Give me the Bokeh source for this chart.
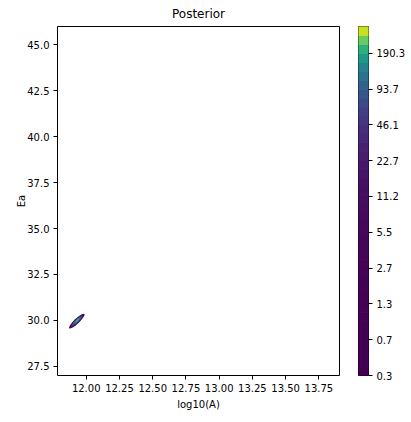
import numpy as np
from bokeh.plotting import figure
from bokeh.layouts import row
from bokeh.models import (LinearColorMapper, FixedTicker, PrintfTickFormatter,
                          ColumnDataSource, Range1d)
from bokeh.palettes import Viridis256
from bokeh.transform import transform
from bokeh.embed import file_html
from bokeh.resources import INLINE

# ---- data ----
x_ticks = [12.00, 12.25, 12.50, 12.75, 13.00, 13.25, 13.50, 13.75]
y_ticks = [27.5, 30.0, 32.5, 35.0, 37.5, 40.0, 42.5, 45.0]
level_min = 0.3234
level_max = 323.4
n_levels = 40
cbar_tick_values = [0.3234, 0.657, 1.334, 2.710, 5.504, 11.18, 22.70, 46.11, 93.68, 190.3]

# posterior blob (nested contour regions), center in data units
blob_log10A = [11.929, 11.929, 11.930, 11.931, 11.932]
blob_Ea = [29.96, 29.96, 29.97, 29.98, 29.99]
blob_value = [1.0, 20.0, 70.0, 130.0, 210.0]
blob_major = [21, 18, 14, 10, 5]
blob_minor = [5, 4.0, 3.0, 2.2, 1.5]
blob_angle = [0.76, 0.76, 0.76, 0.76, 0.76]

FONT = "DejaVu Sans"
H = 418

# contour levels and band colours (linear norm, like matplotlib contourf)
levels = np.logspace(np.log10(level_min), np.log10(level_max), n_levels)
mids = 0.5 * (levels[:-1] + levels[1:])
norm = (mids - levels[0]) / (levels[-1] - levels[0])
band_colors = [Viridis256[min(255, int(round(t * 255)))] for t in norm]

p = figure(width=348, height=H, output_backend="svg", toolbar_location=None,
           x_range=Range1d(11.784, 13.905), y_range=Range1d(27.0, 46.0),
           title="Posterior", min_border_left=57, min_border_top=26,
           min_border_bottom=43, min_border_right=9)
p.title.align = "center"
p.title.text_font = FONT
p.title.text_font_size = "12px"
p.title.text_font_style = "normal"
p.title.text_color = "black"
p.title.vertical_align = "middle"

p.grid.visible = False
p.outline_line_color = "black"
p.outline_line_alpha = 1.0
p.outline_line_width = 1
p.background_fill_color = "white"
p.border_fill_color = "white"

for ax in (p.xaxis[0], p.yaxis[0]):
    ax.axis_line_color = None
    ax.major_tick_in = 0
    ax.major_tick_out = 4
    ax.major_tick_line_color = "black"
    ax.minor_tick_line_color = None
    ax.major_label_text_font = FONT
    ax.major_label_text_font_size = "10px"
    ax.major_label_text_color = "black"
    ax.axis_label_text_font = FONT
    ax.axis_label_text_font_size = "10px"
    ax.axis_label_text_font_style = "normal"
    ax.axis_label_text_color = "black"

p.xaxis.ticker = FixedTicker(ticks=x_ticks)
p.xaxis.formatter = PrintfTickFormatter(format="%.2f")
p.xaxis.axis_label = "log10(A)"
p.xaxis.major_label_standoff = 4
p.xaxis.axis_label_standoff = 4
p.yaxis.ticker = FixedTicker(ticks=y_ticks)
p.yaxis.formatter = PrintfTickFormatter(format="%.1f")
p.yaxis.axis_label = "Ea"
p.yaxis.major_label_standoff = 4
p.yaxis.axis_label_standoff = -3

# blob
lin_mapper = LinearColorMapper(palette=Viridis256, low=levels[0], high=levels[-1])
src = ColumnDataSource(dict(x=blob_log10A, y=blob_Ea, v=blob_value,
                            w=blob_major, h=blob_minor, a=blob_angle))
p.ellipse(x="x", y="y", width="w", height="h", angle="a", source=src,
          width_units="screen", height_units="screen",
          fill_color=transform("v", lin_mapper), line_color=None)

# colour bar as its own small figure (log-spaced contour bands)
cb = figure(width=60, height=H, output_backend="svg", toolbar_location=None,
            x_range=Range1d(0, 1), y_range=Range1d(levels[0], levels[-1]),
            y_axis_type="log", y_axis_location="right",
            min_border_left=10, min_border_top=26, min_border_bottom=43,
            min_border_right=38)
cb.grid.visible = False
cb.xaxis.visible = False
cb.outline_line_color = "black"
cb.outline_line_alpha = 1.0
cb.outline_line_width = 1
cb.border_fill_color = "white"
cb_src = ColumnDataSource(dict(bottom=levels[:-1], top=levels[1:], color=band_colors))
cb.quad(left=0, right=1, bottom="bottom", top="top", fill_color="color",
        line_color="color", line_width=1, source=cb_src)
ya = cb.yaxis[0]
ya.ticker = FixedTicker(ticks=cbar_tick_values)
ya.formatter = PrintfTickFormatter(format="%.1f")
ya.axis_line_color = None
ya.major_tick_in = 0
ya.major_tick_out = 4
ya.major_tick_line_color = "black"
ya.minor_tick_line_color = None
ya.major_label_text_font = FONT
ya.major_label_text_font_size = "10px"
ya.major_label_text_color = "black"
ya.major_label_standoff = 4

layout = row(p, cb)
open("out.html", "w").write(file_html(layout, INLINE))
